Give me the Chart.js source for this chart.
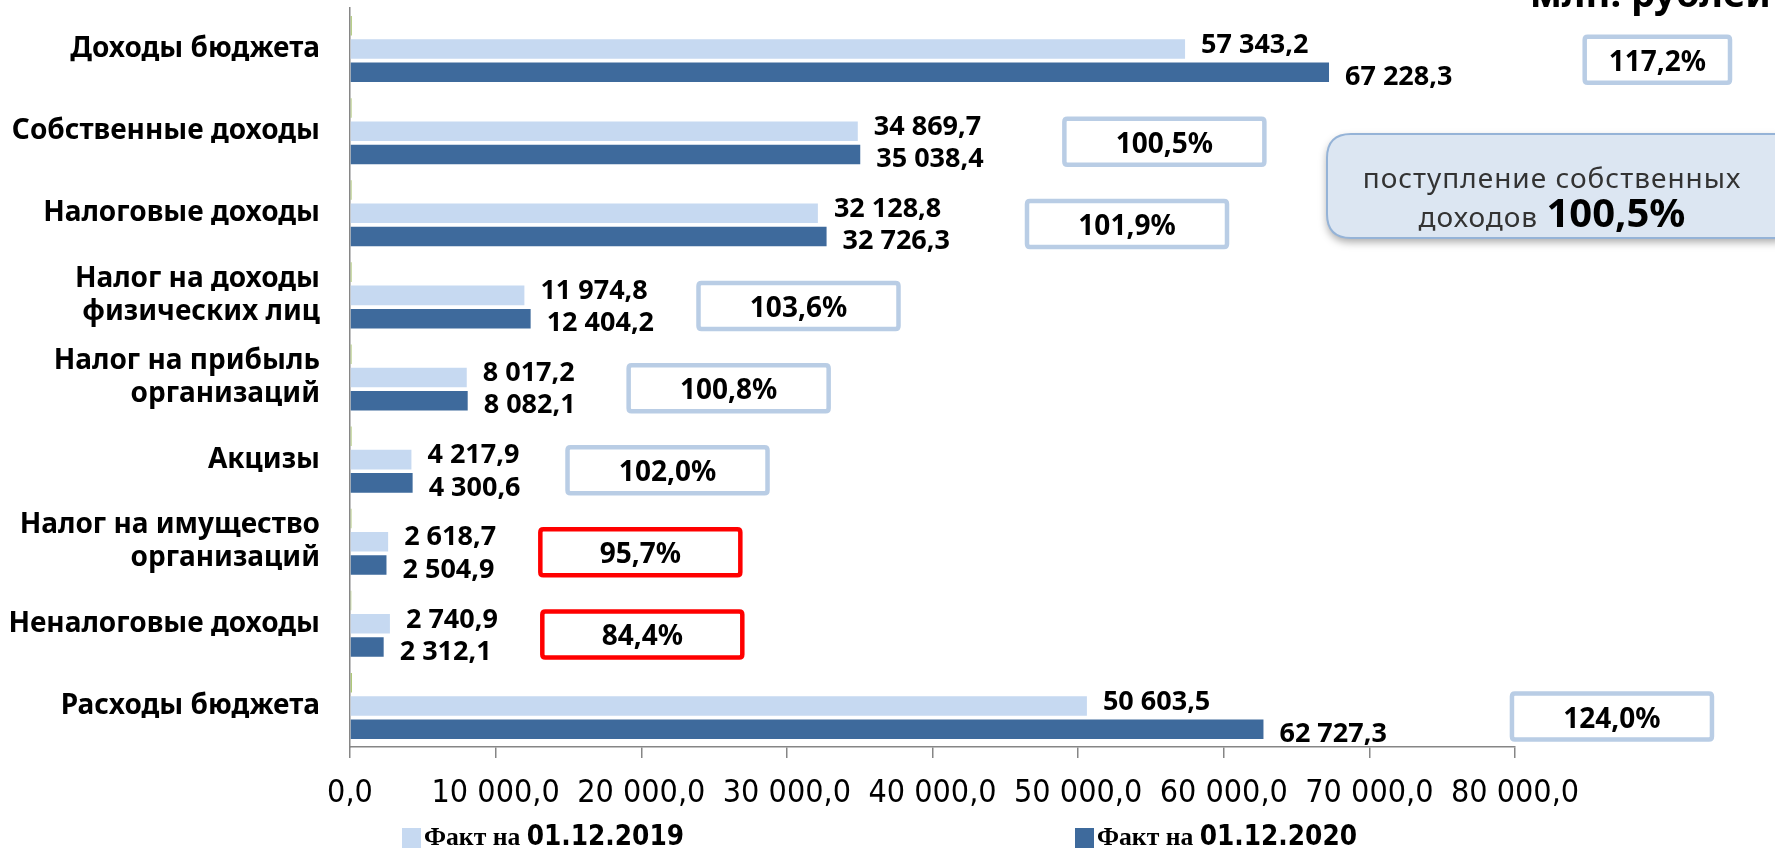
<!DOCTYPE html>
<html lang="ru">
<head>
<meta charset="utf-8">
<title>Исполнение бюджета</title>
<script src="https://cdn.jsdelivr.net/npm/chart.js@4.4.1/dist/chart.umd.min.js"></script>
<style>
  html, body { margin: 0; padding: 0; background: #fff; }
  #wrap { width: 1775px; height: 849px; position: relative; }
</style>
</head>
<body>
<div id="wrap"><canvas id="chart"></canvas></div>
<script>
// categories (top to bottom)
const categories = [
  'Доходы бюджета',
  'Собственные доходы',
  'Налоговые доходы',
  ['Налог на доходы', 'физических лиц'],
  ['Налог на прибыль', 'организаций'],
  'Акцизы',
  ['Налог на имущество', 'организаций'],
  'Неналоговые доходы',
  'Расходы бюджета'
];
const fact2019 = [57343.2, 34869.7, 32128.8, 11974.8, 8017.2, 4217.9, 2618.7, 2740.9, 50603.5];
const fact2020 = [67228.3, 35038.4, 32726.3, 12404.2, 8082.1, 4300.6, 2504.9, 2312.1, 62727.3];
// growth 2020 / 2019, % (also plotted as the thin green series, as in the original)
const growthPct = [117.2, 100.5, 101.9, 103.6, 100.8, 102.0, 95.7, 84.4, 124.0];
const xMin = 0, xMax = 80000, xStep = 10000;
const seriesNames = ['Факт на 01.12.2019', 'Факт на 01.12.2020'];
const unitLabel = 'млн. рублей';
const noteLine1 = 'поступление собственных';
const noteLine2 = 'доходов';

const LIGHT = '#c6d9f1';
const DARK = '#3e6a9c';
const GREEN = '#9bbb59';
const BOX_BLUE = '#b9cde5';
const BOX_RED = '#ff0000';
const SANS = '"Noto Sans", "DejaVu Sans", sans-serif';
const NARROW = '"Liberation Sans Narrow", "DejaVu Sans Condensed", "Liberation Sans", sans-serif';

function fmtNum(v) {
  const p = v.toFixed(1).split('.');
  return p[0].replace(/\B(?=(\d{3})+(?!\d))/g, ' ') + ',' + p[1];
}
function fmtPct(v) {
  return v.toFixed(1).replace('.', ',') + '%';
}

function rrect(ctx, x, y, w, h, r) {
  ctx.beginPath();
  ctx.moveTo(x + r, y);
  ctx.lineTo(x + w - r, y);
  ctx.quadraticCurveTo(x + w, y, x + w, y + r);
  ctx.lineTo(x + w, y + h - r);
  ctx.quadraticCurveTo(x + w, y + h, x + w - r, y + h);
  ctx.lineTo(x + r, y + h);
  ctx.quadraticCurveTo(x, y + h, x, y + h - r);
  ctx.lineTo(x, y + r);
  ctx.quadraticCurveTo(x, y, x + r, y);
  ctx.closePath();
}

// value labels next to bars + percentage boxes
const annotations = {
  id: 'annotations',
  afterDatasetsDraw(chart) {
    const ctx = chart.ctx;
    const xs = chart.scales.x;
    const m19 = chart.getDatasetMeta(1).data;
    const m20 = chart.getDatasetMeta(2).data;
    ctx.save();
    ctx.font = 'bold 27px ' + SANS;
    ctx.fillStyle = '#000';
    ctx.textBaseline = 'middle';
    ctx.textAlign = 'left';
    m19.forEach((bar, i) => ctx.fillText(fmtNum(fact2019[i]), bar.x + 16, bar.y - 4));
    m20.forEach((bar, i) => ctx.fillText(fmtNum(fact2020[i]), bar.x + 16, bar.y + 5));

    growthPct.forEach((p, i) => {
      const top = Math.max(fact2019[i], fact2020[i]);
      const left = xs.getPixelForValue(top * 1.11) + 148;
      const right = Math.min(left + 200, 1730);
      const cy = (m19[i].y + m20[i].y) / 2 - 1;
      const h = 46;
      ctx.fillStyle = '#fff';
      ctx.strokeStyle = p < 100 ? BOX_RED : BOX_BLUE;
      ctx.lineWidth = 4.5;
      rrect(ctx, left, cy - h / 2, right - left, h, 3);
      ctx.fill();
      ctx.stroke();
      ctx.fillStyle = '#000';
      ctx.textAlign = 'center';
      ctx.font = 'bold 28px ' + SANS;
      ctx.fillText(fmtPct(p), (left + right) / 2, cy + 3);
    });
    ctx.restore();
  },
  afterDraw(chart) {
    const ctx = chart.ctx;
    ctx.save();

    // unit label, cut at the top edge as in the source
    ctx.font = 'bold 38px ' + SANS;
    ctx.fillStyle = '#000';
    ctx.textBaseline = 'alphabetic';
    ctx.textAlign = 'left';
    ctx.fillText(unitLabel, 1530, 7);

    // callout
    ctx.save();
    ctx.shadowColor = 'rgba(0,0,0,0.35)';
    ctx.shadowBlur = 8;
    ctx.shadowOffsetY = 4;
    ctx.fillStyle = '#dce6f2';
    rrect(ctx, 1327, 134, 470, 104, 24);
    ctx.fill();
    ctx.restore();
    ctx.strokeStyle = '#95b3d7';
    ctx.lineWidth = 2;
    rrect(ctx, 1327, 134, 470, 104, 24);
    ctx.stroke();

    const cx = 1552;
    ctx.fillStyle = '#333';
    ctx.textAlign = 'center';
    ctx.textBaseline = 'alphabetic';
    ctx.letterSpacing = '1px';
    ctx.font = '28px ' + SANS;
    ctx.fillText(noteLine1, cx, 188);
    const part1 = noteLine2 + ' ';
    const part2 = fmtPct(growthPct[1]);
    ctx.font = '28px ' + SANS;
    const w1 = ctx.measureText(part1).width;
    ctx.letterSpacing = '0px';
    ctx.font = 'bold 40px ' + SANS;
    const w2 = ctx.measureText(part2).width;
    const sx = cx - (w1 + w2) / 2;
    ctx.textAlign = 'left';
    ctx.letterSpacing = '1px';
    ctx.font = '28px ' + SANS;
    ctx.fillText(part1, sx, 227);
    ctx.letterSpacing = '0px';
    ctx.fillStyle = '#000';
    ctx.font = 'bold 40px ' + SANS;
    ctx.fillText(part2, sx + w1, 227);

    // legend
    const legendX = [402, 1075];
    const colors = [LIGHT, DARK];
    ctx.textBaseline = 'middle';
    seriesNames.forEach((name, k) => {
      const x0 = legendX[k];
      const y0 = 838;
      ctx.fillStyle = colors[k];
      ctx.fillRect(x0, y0 - 10, 19, 20);
      const cut = name.lastIndexOf(' ');
      const lead = name.slice(0, cut + 1);
      const date = name.slice(cut + 1);
      ctx.fillStyle = '#000';
      ctx.font = 'bold 26px "Liberation Serif", serif';
      const lw = ctx.measureText(lead).width;
      ctx.font = 'bold 28px ' + NARROW;
      const dw = ctx.measureText(date).width;
      const sc = Math.min(1, 260 / (lw + dw));
      ctx.save();
      ctx.translate(x0 + 22, y0);
      ctx.scale(sc, 1);
      ctx.font = 'bold 26px "Liberation Serif", serif';
      ctx.fillText(lead, 0, 0);
      ctx.font = 'bold 28px ' + NARROW;
      ctx.fillText(date, lw, 0);
      ctx.restore();
    });
    ctx.restore();
  }
};

new Chart(document.getElementById('chart'), {
  type: 'bar',
  data: {
    labels: categories,
    datasets: [
      { label: 'Темп роста, %', data: growthPct, backgroundColor: GREEN },
      { label: seriesNames[0], data: fact2019, backgroundColor: LIGHT },
      { label: seriesNames[1], data: fact2020, backgroundColor: DARK }
    ]
  },
  options: {
    indexAxis: 'y',
    responsive: true,
    maintainAspectRatio: false,
    animation: false,
    categoryPercentage: 0.85,
    barPercentage: 0.84,
    layout: { padding: { top: 8, right: 260, bottom: 42, left: 0 } },
    plugins: {
      legend: { display: false },
      tooltip: { enabled: false }
    },
    scales: {
      x: {
        type: 'linear',
        min: xMin,
        max: xMax,
        border: { display: true, color: '#868686', width: 1.5 },
        grid: { drawOnChartArea: false, drawTicks: true, tickLength: 11, color: '#868686', lineWidth: 1.5 },
        ticks: {
          stepSize: xStep,
          autoSkip: false,
          maxRotation: 0,
          padding: 16,
          color: '#000',
          font: { family: NARROW, size: 32 },
          callback: (v) => fmtNum(v)
        },
        afterFit: (s) => { s.height = 60; }
      },
      y: {
        border: { display: true, color: '#868686', width: 1.5 },
        grid: { display: true, drawOnChartArea: false, drawTicks: false },
        ticks: {
          padding: 30,
          color: '#000',
          font: { family: SANS, size: 28, weight: 'bold', lineHeight: 1.2 }
        },
        afterFit: (s) => { s.width = 350; s.paddingTop = 0; s.paddingBottom = 0; }
      }
    }
  },
  plugins: [annotations]
});
</script>
</body>
</html>
